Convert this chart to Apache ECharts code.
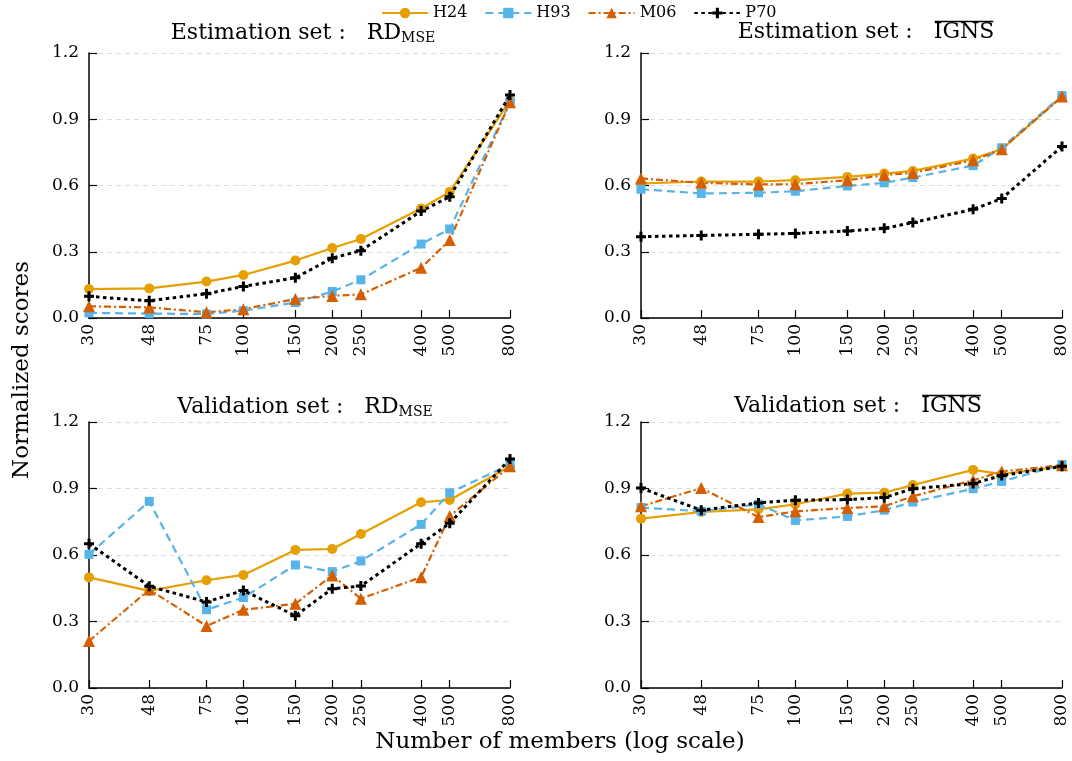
<!DOCTYPE html>
<html><head><meta charset="utf-8">
<script src="https://cdn.jsdelivr.net/npm/echarts@6/dist/echarts.min.js"></script>
<style>html,body{margin:0;padding:0;background:#fff}#c{width:1072px;height:761px}</style>
</head><body><div id="c"></div>
<script>
const members = [30, 48, 75, 100, 150, 200, 250, 400, 500, 800];
const yTicks = [0.0, 0.3, 0.6, 0.9, 1.2];
const seriesNames = ['H24', 'H93', 'M06', 'P70'];

// Estimation set : RD_MSE
const estRD_H24 = [0.131, 0.134, 0.165, 0.195, 0.26, 0.317, 0.358, 0.496, 0.571, 0.985];
const estRD_H93 = [0.023, 0.020, 0.018, 0.033, 0.07, 0.12, 0.173, 0.335, 0.403, 0.977];
const estRD_M06 = [0.053, 0.048, 0.026, 0.040, 0.086, 0.10, 0.107, 0.227, 0.353, 0.977];
const estRD_P70 = [0.098, 0.078, 0.110, 0.143, 0.182, 0.271, 0.305, 0.484, 0.549, 1.01];
// Estimation set : IGNS
const estIG_H24 = [0.609, 0.618, 0.618, 0.624, 0.639, 0.654, 0.666, 0.722, 0.764, 1.003];
const estIG_H93 = [0.583, 0.564, 0.567, 0.574, 0.598, 0.612, 0.636, 0.690, 0.771, 1.007];
const estIG_M06 = [0.632, 0.612, 0.605, 0.606, 0.624, 0.647, 0.657, 0.714, 0.764, 1.003];
const estIG_P70 = [0.368, 0.374, 0.379, 0.383, 0.394, 0.406, 0.432, 0.492, 0.541, 0.777];
// Validation set : RD_MSE
const valRD_H24 = [0.499, 0.438, 0.486, 0.510, 0.623, 0.627, 0.695, 0.838, 0.848, 1.0];
const valRD_H93 = [0.603, 0.842, 0.353, 0.408, 0.555, 0.525, 0.573, 0.738, 0.881, 1.008];
const valRD_M06 = [0.212, 0.444, 0.280, 0.353, 0.380, 0.508, 0.403, 0.500, 0.776, 1.0];
const valRD_P70 = [0.651, 0.459, 0.388, 0.440, 0.326, 0.448, 0.460, 0.651, 0.743, 1.033];
// Validation set : IGNS
const valIG_H24 = [0.764, 0.794, 0.806, 0.829, 0.877, 0.881, 0.916, 0.984, 0.965, 1.0];
const valIG_H93 = [0.814, 0.797, 0.829, 0.756, 0.774, 0.802, 0.839, 0.899, 0.932, 1.008];
const valIG_M06 = [0.820, 0.902, 0.771, 0.797, 0.812, 0.820, 0.865, 0.937, 0.977, 1.005];
const valIG_P70 = [0.902, 0.802, 0.835, 0.847, 0.850, 0.859, 0.899, 0.922, 0.959, 1.0];

const panels = [
  [estRD_H24, estRD_H93, estRD_M06, estRD_P70],
  [estIG_H24, estIG_H93, estIG_M06, estIG_P70],
  [valRD_H24, valRD_H93, valRD_M06, valRD_P70],
  [valIG_H24, valIG_H93, valIG_M06, valIG_P70]
];

const FONT = 'DejaVu Serif';
const colors = ['#E69F00', '#56B4E9', '#D55E00', '#000000'];
const dashes = ['solid', [8, 5], [7, 3, 2, 3], [3.5, 3.5]];
const widths = [2.2, 2.2, 2.2, 3];
const plusPath = 'path://M3.5,0H6.5V3.5H10V6.5H6.5V10H3.5V6.5H0V3.5H3.5Z';
const symbols = ['circle', 'rect', 'triangle', plusPath];
const symSizes = [10, 9, 12, 10];

const gridPos = [
  {left: 89, top: 53, width: 421, height: 265},
  {left: 641, top: 53, width: 421, height: 265},
  {left: 89, top: 422, width: 421, height: 266},
  {left: 641, top: 422, width: 421, height: 266}
];

const grids = gridPos.map(g => Object.assign({outerBoundsMode: 'none', containLabel: false}, g));
const xAxes = gridPos.map((g, i) => ({
  type: 'log', logBase: 10, gridIndex: i, min: 30, max: 800,
  axisLine: {show: true, lineStyle: {color: '#000', width: 1.5}},
  axisTick: {show: true, inside: true, length: 8, customValues: members, lineStyle: {color: '#000', width: 1.2}},
  axisLabel: {show: true, customValues: members, rotate: 90, margin: 6, color: '#000', fontFamily: FONT, fontSize: 17, formatter: v => String(Math.round(v))},
  splitLine: {show: false}, minorTick: {show: false}, minorSplitLine: {show: false}
}));
const yAxes = gridPos.map((g, i) => ({
  type: 'value', gridIndex: i, min: 0, max: 1.2, interval: 0.3,
  axisLine: {show: true, lineStyle: {color: '#000', width: 1.5}},
  axisTick: {show: true, inside: true, length: 8, lineStyle: {color: '#000', width: 1.2}},
  axisLabel: {color: '#000', fontFamily: FONT, fontSize: 17, margin: 10, formatter: v => v.toFixed(1)},
  splitLine: {show: true, lineStyle: {color: '#dddddd', type: [5, 4], width: 1}}
}));

const series = [];
panels.forEach((pd, pi) => {
  pd.forEach((vals, si) => {
    series.push({
      name: seriesNames[si], type: 'line', xAxisIndex: pi, yAxisIndex: pi,
      data: members.map((m, k) => [m, vals[k]]),
      symbol: symbols[si], symbolSize: symSizes[si], showSymbol: true,
      lineStyle: {color: colors[si], type: dashes[si], width: widths[si]},
      itemStyle: {color: colors[si]},
      z: 2 + (si === 3 ? 1 : 0),
      animation: false
    });
  });
});

const TFS = 22;
const sub = {fontSize: 14, fontFamily: FONT, color: '#000', padding: [10, 0, 0, 0]};
const titleStyle = {fontFamily: FONT, fontSize: TFS, fontWeight: 'normal', color: '#000', rich: {sub: sub}};
const titleDefs = [
  {pre: 'Estimation set :   ', txt: 'RD{sub|MSE}', ov: false, cx: 303, top: 21},
  {pre: 'Estimation set :   ', txt: 'IGNS', ov: true, cx: 866, top: 21},
  {pre: 'Validation set :   ', txt: 'RD{sub|MSE}', ov: false, cx: 305, top: 395},
  {pre: 'Validation set :   ', txt: 'IGNS', ov: true, cx: 858, top: 395}
];
const titles = titleDefs.map(t => ({text: t.pre + t.txt, left: t.cx, top: t.top, textAlign: 'center', textStyle: titleStyle, padding: 0}));

// overline above "IGNS" (text decoration), placed by measuring the title text
const mctx = document.createElement('canvas').getContext('2d');
mctx.font = TFS + 'px "DejaVu Serif"';
const overlines = titleDefs.filter(t => t.ov).map(t => {
  const W = mctx.measureText(t.pre + t.txt).width;
  const w = mctx.measureText(t.txt).width;
  const x1 = t.cx + W / 2 - w;
  return {type: 'line', shape: {x1: x1 + 1, y1: t.top + 0.5, x2: t.cx + W / 2 - 1, y2: t.top + 0.5},
          style: {stroke: '#000', lineWidth: 1.5}, silent: true};
});

const option = {
  backgroundColor: '#fff',
  animation: false,
  title: titles,
  legend: {
    data: seriesNames, top: 0, left: 376,
    itemWidth: 46, itemHeight: 13, itemGap: 17,
    textStyle: {fontFamily: FONT, fontSize: 16, color: '#000'}
  },
  grid: grids, xAxis: xAxes, yAxis: yAxes, series: series,
  graphic: [
    {type: 'text', x: 22, y: 370, rotation: Math.PI / 2,
     style: {text: 'Normalized scores', font: '23px "DejaVu Serif"', fill: '#000', textAlign: 'center', textVerticalAlign: 'middle'}},
    {type: 'text', x: 560, y: 742,
     style: {text: 'Number of members (log scale)', font: '23px "DejaVu Serif"', fill: '#000', textAlign: 'center', textVerticalAlign: 'middle'}}
  ].concat(overlines)
};
const chart = echarts.init(document.getElementById('c'), null, {renderer: 'canvas'});
chart.setOption(option);
</script></body></html>
